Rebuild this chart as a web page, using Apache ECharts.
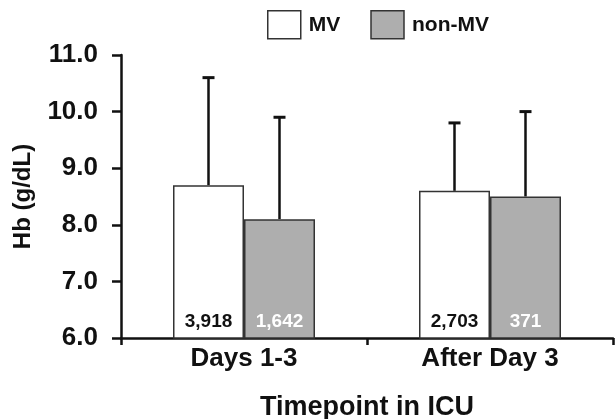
<!DOCTYPE html>
<html><head><meta charset="utf-8">
<script src="https://cdn.jsdelivr.net/npm/echarts@6/dist/echarts.min.js"></script>
<style>html,body{margin:0;padding:0;background:#fff}#c{width:616px;height:419px}</style>
</head><body><div id="c"></div>
<script>
var categories = ['Days 1-3', 'After Day 3'];
var mvMean = [8.7, 8.6];
var nonMvMean = [8.1, 8.5];
var mvUpper = [10.6, 9.8];
var nonMvUpper = [9.9, 10.0];
var mvCount = ['3,918', '2,703'];
var nonMvCount = ['1,642', '371'];
var yTicks = [6, 7, 8, 9, 10, 11];

var FONT = '"Liberation Sans", Arial, Helvetica, sans-serif';
var BW = 71;
function errSeries(upper, means, offset) {
  return {
    type: 'custom',
    z: 1,
    data: upper.map(function (u, i) { return [i, means[i], u]; }),
    renderItem: function (params, api) {
      var base = api.coord([api.value(0), api.value(1)]);
      var top = api.coord([api.value(0), api.value(2)]);
      var x = base[0] + offset;
      return {
        type: 'group',
        children: [
          { type: 'line', shape: { x1: x, y1: base[1], x2: x, y2: top[1] }, style: { stroke: '#111', lineWidth: 2.5 } },
          { type: 'line', shape: { x1: x - 6, y1: top[1], x2: x + 6, y2: top[1] }, style: { stroke: '#111', lineWidth: 3 } }
        ]
      };
    }
  };
}
var chart = echarts.init(document.getElementById('c'), null, { renderer: 'canvas' });
chart.setOption({
  animation: false,
  textStyle: { fontFamily: FONT },
  legend: {
    left: 262, top: 5,
    itemWidth: 33, itemHeight: 28, itemGap: 30,
    textStyle: { fontFamily: FONT, fontWeight: 'bold', fontSize: 21, color: '#111', padding: [0, 0, 0, 3] },
    data: [
      { name: 'MV', icon: 'rect', itemStyle: { color: '#fff', borderColor: '#333', borderWidth: 1.5 } },
      { name: 'non-MV', icon: 'rect', itemStyle: { color: '#aeaeae', borderColor: '#333', borderWidth: 1.5 } }
    ]
  },
  grid: { left: 121, right: 3, top: 55, bottom: 81, containLabel: false, outerBoundsMode: 'none' },
  xAxis: {
    type: 'category', data: categories,
    name: 'Timepoint in ICU', nameLocation: 'middle', nameGap: 56,
    nameTextStyle: { fontFamily: FONT, fontWeight: 'bold', fontSize: 27, color: '#111' },
    axisLine: { lineStyle: { color: '#111', width: 2.5 } },
    axisTick: { show: true, length: 7, lineStyle: { color: '#111', width: 2.5 } },
    axisLabel: { fontFamily: FONT, fontWeight: 'bold', fontSize: 26, color: '#111', margin: 8 }
  },
  yAxis: {
    type: 'value', min: 6, max: 11, interval: 1,
    name: 'Hb (g/dL)', nameLocation: 'middle', nameGap: 86, nameRotate: 90,
    nameTextStyle: { fontFamily: FONT, fontWeight: 'bold', fontSize: 24, color: '#111' },
    axisLine: { show: true, lineStyle: { color: '#111', width: 2.5 } },
    axisTick: { show: true, length: 9, lineStyle: { color: '#111', width: 2.5 } },
    splitLine: { show: false },
    axisLabel: { fontFamily: FONT, fontWeight: 'bold', fontSize: 26, color: '#111', margin: 23,
      formatter: function (v) { return yTicks.indexOf(v) >= 0 ? v.toFixed(1) : ''; } }
  },
  series: [
    errSeries(mvUpper, mvMean, -BW / 2),
    errSeries(nonMvUpper, nonMvMean, BW / 2),
    {
      name: 'MV', type: 'bar', data: mvMean, barWidth: BW, barGap: '0%', z: 2,
      itemStyle: { color: '#fff', borderColor: '#333', borderWidth: 1.5 },
      label: { show: true, position: 'insideBottom', distance: 7, fontFamily: FONT, fontWeight: 'bold', fontSize: 19, color: '#111',
        formatter: function (p) { return mvCount[p.dataIndex]; } }
    },
    {
      name: 'non-MV', type: 'bar', data: nonMvMean, barWidth: BW, barGap: '0%', z: 2,
      itemStyle: { color: '#aeaeae', borderColor: '#333', borderWidth: 1.5 },
      label: { show: true, position: 'insideBottom', distance: 7, fontFamily: FONT, fontWeight: 'bold', fontSize: 19, color: '#fff',
        formatter: function (p) { return nonMvCount[p.dataIndex]; } }
    }
  ]
});
</script></body></html>
